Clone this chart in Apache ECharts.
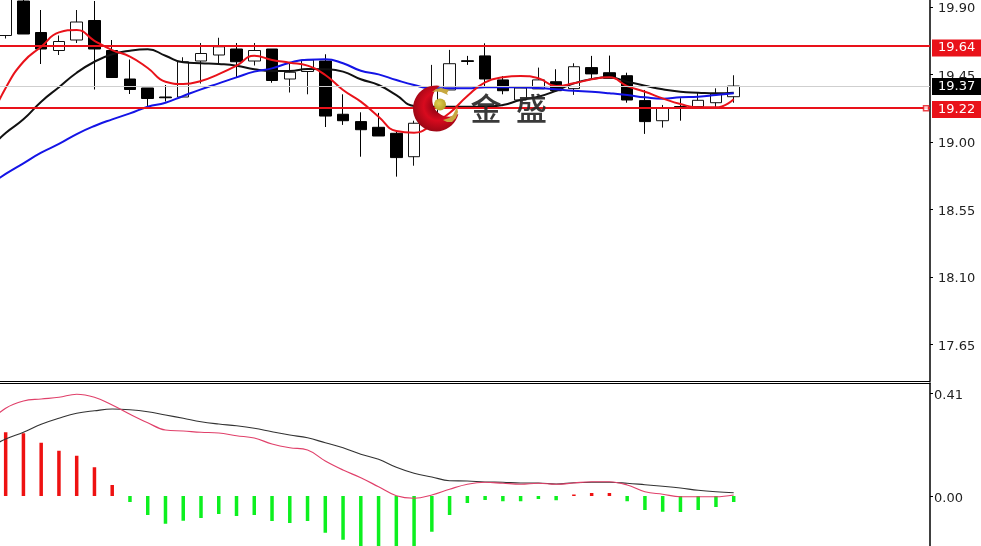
<!DOCTYPE html>
<html><head><meta charset="utf-8">
<style>html,body{margin:0;padding:0;background:#fff}#c{width:981px;height:546px}</style>
<script src="https://cdn.jsdelivr.net/npm/echarts@6/dist/echarts.min.js"></script>
</head><body><div id="c"></div>
<script>
// [open, close, low, high]
const candles = [
[19.71,19.98,19.69,20.0],[19.94,19.72,19.72,20.0],[19.73,19.62,19.52,19.88],[19.61,19.67,19.58,19.71],
[19.68,19.80,19.66,19.88],[19.81,19.62,19.35,19.94],[19.61,19.43,19.43,19.68],[19.42,19.35,19.32,19.55],
[19.36,19.29,19.24,19.36],[19.30,19.295,19.27,19.38],[19.30,19.535,19.30,19.565],[19.54,19.59,19.39,19.66],
[19.58,19.635,19.525,19.695],[19.62,19.535,19.43,19.66],[19.54,19.61,19.51,19.66],[19.62,19.41,19.395,19.62],
[19.42,19.465,19.33,19.527],[19.47,19.547,19.318,19.547],[19.54,19.173,19.10,19.585],[19.185,19.142,19.114,19.318],
[19.136,19.082,18.902,19.198],[19.098,19.04,19.04,19.194],[19.058,18.896,18.769,19.069],[18.902,19.125,18.842,19.142],
[19.127,19.36,19.114,19.514],[19.347,19.522,19.347,19.614],[19.542,19.537,19.514,19.574],[19.574,19.42,19.36,19.658],
[19.414,19.342,19.318,19.44],[19.28,19.36,19.27,19.37],[19.354,19.414,19.354,19.496],[19.402,19.342,19.342,19.485],
[19.356,19.502,19.314,19.525],[19.496,19.454,19.425,19.574],[19.462,19.425,19.425,19.576],[19.442,19.28,19.262,19.462],
[19.276,19.136,19.054,19.347],[19.142,19.225,19.096,19.247],[19.236,19.231,19.142,19.292],[19.236,19.278,19.227,19.329],
[19.262,19.32,19.232,19.358],[19.302,19.373,19.262,19.445]];
// moving averages; the first value sits one bar left of the visible window
const maFast = [19.113,19.360,19.535,19.635,19.731,19.747,19.675,19.613,19.569,19.493,19.402,19.387,19.407,19.453,19.509,19.575,19.547,19.529,19.509,19.447,19.347,19.269,19.169,19.073,19.062,19.113,19.193,19.307,19.398,19.431,19.440,19.425,19.373,19.391,19.418,19.431,19.373,19.335,19.291,19.253,19.231,19.231,19.285];
const maMid = [18.947,19.060,19.151,19.269,19.365,19.462,19.535,19.585,19.609,19.618,19.575,19.531,19.525,19.520,19.509,19.485,19.473,19.473,19.487,19.485,19.469,19.418,19.380,19.313,19.240,19.235,19.235,19.235,19.235,19.247,19.280,19.302,19.342,19.391,19.420,19.431,19.402,19.375,19.351,19.335,19.329,19.325,19.329];
const maSlow = [18.707,18.787,18.858,18.929,18.987,19.053,19.107,19.151,19.191,19.235,19.262,19.307,19.351,19.391,19.431,19.469,19.491,19.529,19.549,19.551,19.525,19.475,19.451,19.413,19.380,19.358,19.358,19.358,19.365,19.365,19.365,19.360,19.351,19.342,19.335,19.325,19.313,19.298,19.289,19.298,19.302,19.313,19.325];
const macdHist = [0.255,0.251,0.213,0.181,0.161,0.115,0.044,-0.024,-0.076,-0.111,-0.099,-0.088,-0.072,-0.08,-0.076,-0.1,-0.108,-0.1,-0.147,-0.175,-0.21,-0.21,-0.21,-0.21,-0.143,-0.076,-0.028,-0.016,-0.021,-0.021,-0.012,-0.017,0.006,0.012,0.012,-0.021,-0.056,-0.063,-0.064,-0.056,-0.044,-0.024];
const macdSignal = [0.19,0.228,0.255,0.287,0.311,0.331,0.341,0.348,0.345,0.337,0.324,0.311,0.297,0.288,0.281,0.271,0.257,0.244,0.233,0.213,0.193,0.167,0.147,0.115,0.091,0.076,0.061,0.060,0.056,0.055,0.052,0.052,0.048,0.053,0.055,0.055,0.051,0.045,0.039,0.032,0.023,0.017,0.013];
const macdLine = [0.29,0.351,0.380,0.388,0.395,0.407,0.395,0.364,0.327,0.293,0.264,0.260,0.255,0.252,0.241,0.232,0.208,0.193,0.184,0.140,0.104,0.073,0.037,0.001,-0.009,0.004,0.027,0.047,0.055,0.051,0.047,0.051,0.047,0.052,0.057,0.057,0.044,0.017,0.007,-0.003,-0.003,-0.003,0.004];
const priceTicks = [19.90,19.45,19.00,18.55,18.10,17.65];
const macdTicks = [0.41,0.00];
const resistance = 19.642, support = 19.225, lastPrice = 19.373;
const levelLabels = ['19.64','19.22','19.37'];
const watermark = ['金','盛'];

const RED='#e9121a', FONT='"DejaVu Sans"';
const withX = (arr, from) => arr.map((v,i)=>[i+from,v]);
const mkLine = (v,text,color,width,bg,offs) => ({
  yAxis:v, lineStyle:{color,width,type:'solid'},
  label:{show:true,position:'end',distance:2,formatter:text,color:'#fff',fontFamily:FONT,fontSize:13,
    backgroundColor:bg,padding:[2,6,2,6],lineHeight:13,offset:[0,offs]}
});
const xBase = {type:'value',min:-0.319,max:52.054,axisTick:{show:false},axisLabel:{show:false},splitLine:{show:false},
  axisLine:{show:true,onZero:false,lineStyle:{color:'#000',width:1}}};
const yBase = {type:'value',position:'right',splitLine:{show:false},scale:true,
  axisLine:{show:true,onZero:false,lineStyle:{color:'#000',width:1.5}},
  axisTick:{show:true,length:3,lineStyle:{color:'#000'}}};
const maSeries = (name,arr,color) => ({name,type:'line',data:withX(arr,-1),smooth:0.5,showSymbol:false,symbol:'none',
  lineStyle:{color,width:2},z:4,xAxisIndex:0,yAxisIndex:0});
const tickLabel = (margin,pad) => ({formatter:v=>'{a|'+v.toFixed(2)+'}',margin,
  rich:{a:{color:'#222',fontFamily:FONT,fontSize:13,lineHeight:13,padding:[pad,0,0,0]}}});
// logo outline helper: points along a circular arc
const arc = (cx,cy,r,a0,a1,n=32) => Array.from({length:n+1},(_,k)=>{
  const a=(a0+(a1-a0)*k/n)*Math.PI/180; return [cx+r*Math.cos(a),cy+r*Math.sin(a)];
});
const aOuter0=Math.atan2(85.83-108.5,440.15-436)*180/Math.PI, aOuter1=Math.atan2(113.81-108.5,458.43-436)*180/Math.PI;
const aInner0=Math.atan2(113.81-100,458.43-449)*180/Math.PI, aInner1=Math.atan2(85.83-100,440.15-449)*180/Math.PI;
const crescent = arc(436,108.5,23,aOuter0,aOuter1-360).concat(arc(449,100,16.7,aInner0,aInner1<aInner0?aInner1+360:aInner1));
const chart = echarts.init(document.getElementById('c'));
chart.setOption({
  animation:false,backgroundColor:'#fff',
  grid:[{left:0,top:0,width:930,height:381,outerBoundsMode:'none'},{left:0,top:383,width:930,height:163,outerBoundsMode:'none'}],
  xAxis:[Object.assign({},xBase,{gridIndex:0,position:'bottom'}),Object.assign({},xBase,{gridIndex:1,position:'top'})],
  yAxis:[
    Object.assign({},yBase,{gridIndex:0,min:17.4067,max:19.9467,
      axisTick:Object.assign({},yBase.axisTick,{customValues:priceTicks}),
      axisLabel:Object.assign(tickLabel(8,4),{customValues:priceTicks,showMinLabel:true,showMaxLabel:true})}),
    Object.assign({},yBase,{gridIndex:1,min:-0.2,max:0.452,
      axisTick:Object.assign({},yBase.axisTick,{customValues:macdTicks}),
      axisLabel:Object.assign(tickLabel(4,5),{customValues:macdTicks})})
  ],
  series:[
    {type:'candlestick',xAxisIndex:0,yAxisIndex:0,z:2,barWidth:12,
     data:candles.map((c,i)=>[i,c[0],c[1],c[2],c[3]]),
     itemStyle:{color:'#fff',color0:'#000',borderColor:'#111',borderColor0:'#000',borderColorDoji:'#000',borderWidth:1}},
    {type:'line',xAxisIndex:0,yAxisIndex:0,data:[],z:1,symbol:'none',
     markLine:{silent:true,symbol:'none',animation:false,data:[
       mkLine(lastPrice,levelLabels[2],'#cfcfcf',1,'#000',0),
       mkLine(resistance,levelLabels[0],RED,2,RED,2),
       mkLine(support,levelLabels[1],RED,2,RED,2)
     ]}},
    maSeries('mid',maMid,'#111'),
    maSeries('slow',maSlow,'#1414e6'),
    maSeries('fast',maFast,RED),
    {type:'scatter',xAxisIndex:0,yAxisIndex:0,z:5,symbol:'rect',symbolSize:5,data:[[51.83,support]],
     itemStyle:{color:'#fff',borderColor:RED,borderWidth:1.5}},
    {type:'bar',xAxisIndex:1,yAxisIndex:1,barWidth:3.5,z:2,
     data:macdHist.map((v,i)=>({value:[i,v],itemStyle:{color:v>=0?'#ee1111':'#0df01f'}}))},
    {type:'line',xAxisIndex:1,yAxisIndex:1,data:withX(macdSignal,-1),symbol:'none',smooth:0.4,z:3,lineStyle:{color:'#333',width:1.2}},
    {type:'line',xAxisIndex:1,yAxisIndex:1,data:withX(macdLine,-1),symbol:'none',smooth:0.4,z:3,lineStyle:{color:'#e0406a',width:1.2}}
  ],
  graphic:{elements:[
    {type:'polygon',z:100,shape:{points:crescent},
     style:{fill:new echarts.graphic.RadialGradient(0.55,0.45,0.7,[{offset:0,color:'#7a0010'},{offset:0.45,color:'#d80a1e'},{offset:1,color:'#7c0510'}])}},
    {type:'polygon',z:101,shape:{points:[[432,92],[436,89],[441,88],[449,90],[447,93],[448,95],[441,92],[436,91.5]]},style:{fill:'#c8a840'}},
    {type:'polygon',z:101,shape:{points:[[443,120],[449,118],[453,115],[457,107],[458,112],[456,118],[452,122],[447,122]]},style:{fill:'#c8a840'}},
    {type:'circle',z:102,shape:{cx:440,cy:104.5,r:6},style:{fill:new echarts.graphic.RadialGradient(0.4,0.4,0.7,[{offset:0,color:'#e0d050'},{offset:1,color:'#b09a20'}])}},
    {type:'text',z:100,x:470.5,y:93,style:{text:watermark[0],font:'500 31px "Noto Sans CJK SC"',fill:'rgba(40,40,40,0.92)'}},
    {type:'text',z:100,x:516,y:93,style:{text:watermark[1],font:'500 31px "Noto Sans CJK SC"',fill:'rgba(40,40,40,0.92)'}}
  ]}
});
</script></body></html>
